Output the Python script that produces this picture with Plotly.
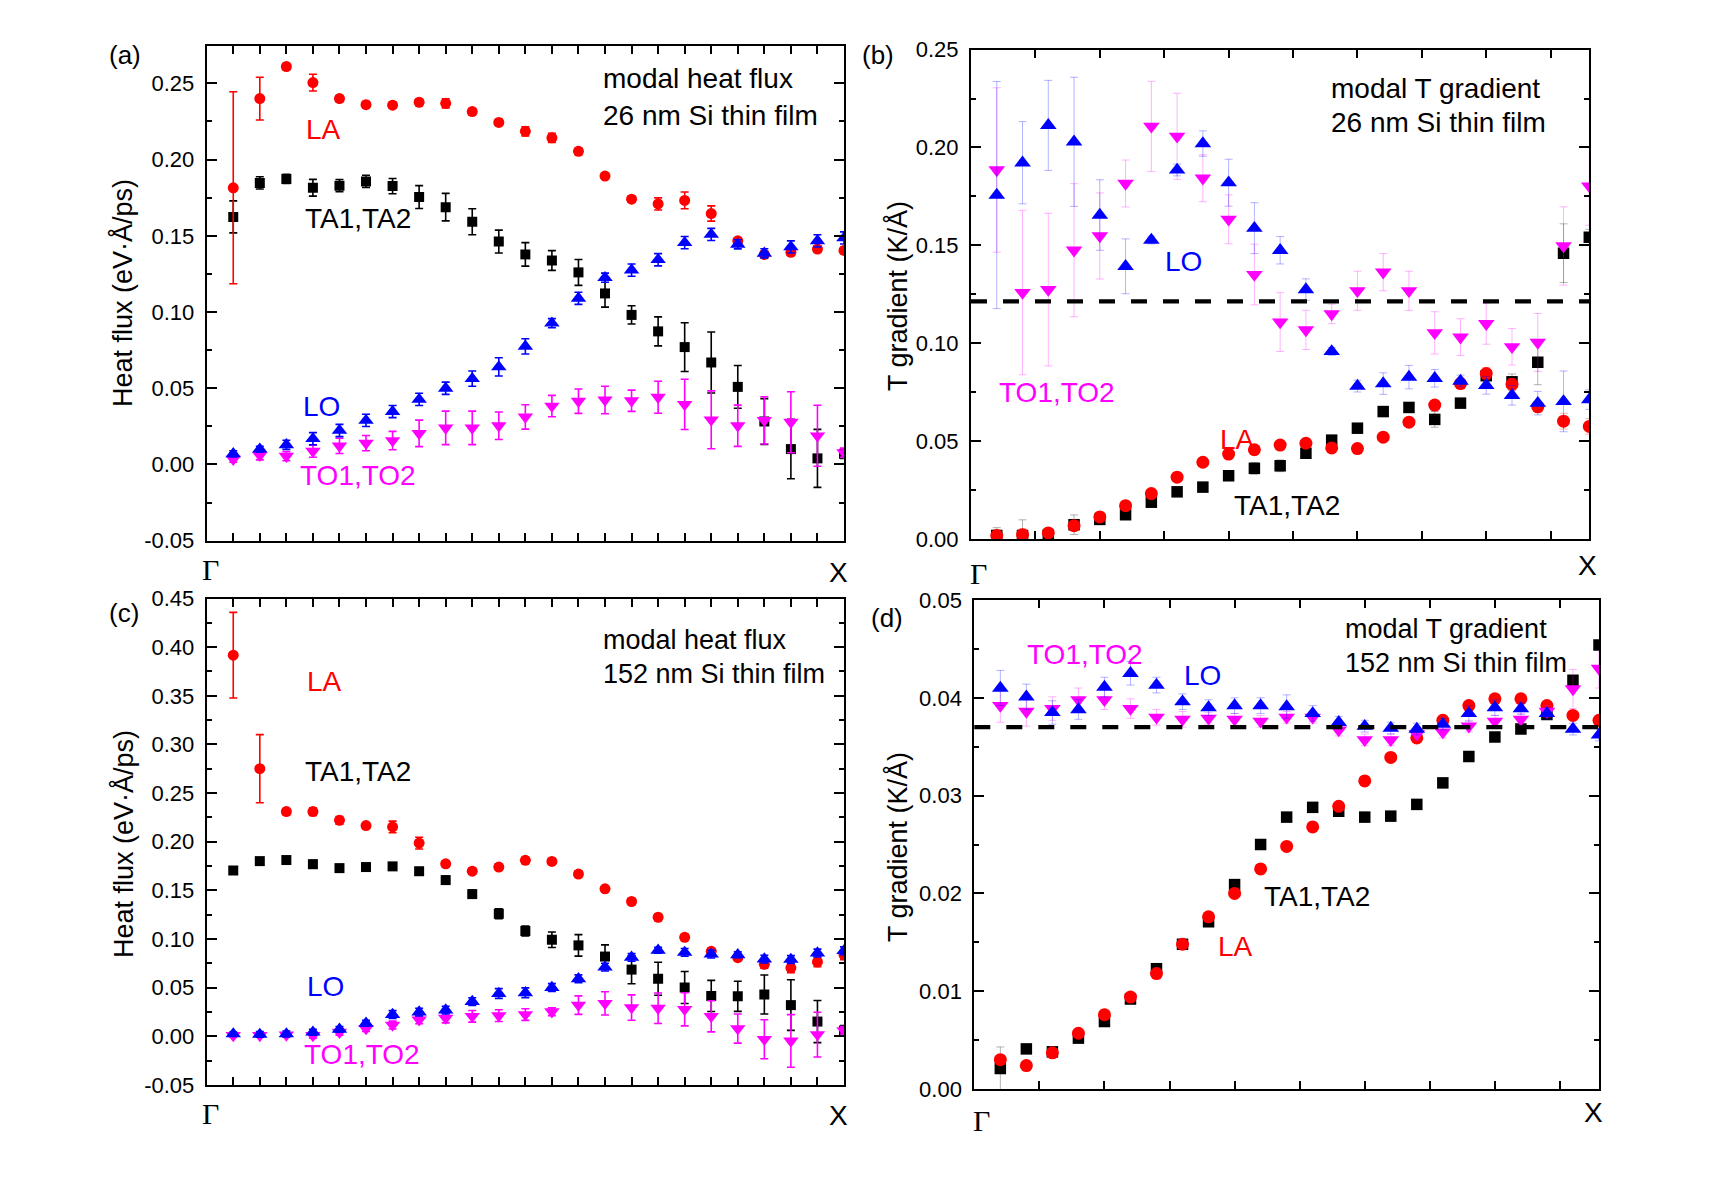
import plotly.graph_objects as go

W, H = 1713, 1198

# ---------------- data ----------------
q = list(range(1, 25))  # wave-vector index from Gamma (0) to X (24)

# (a) modal heat flux, 26 nm film
LA_a = [0.1815, 0.240, 0.261, 0.2505, 0.240, 0.236, 0.2357, 0.2376, 0.2369, 0.2315, 0.2244, 0.2185,
        0.2143, 0.2054, 0.1892, 0.174, 0.1709, 0.1732, 0.1646, 0.1467, 0.1378, 0.1392, 0.1413, 0.1404]
LA_a_err = [0.063, 0.014, 0.002, 0.0055, 0.002, 0.002, 0.002, 0.002, 0.003, 0.002, 0.002, 0.003,
            0.003, 0.002, 0.002, 0.002, 0.004, 0.0055, 0.005, 0.002, 0.002, 0.002, 0.002, 0.002]
TA_a = [0.1624, 0.1847, 0.1873, 0.1815, 0.1829, 0.1857, 0.1826, 0.1754, 0.1688, 0.1592, 0.1462, 0.1378,
        0.1338, 0.126, 0.1122, 0.0981, 0.0873, 0.077, 0.0669, 0.0509, 0.0282, 0.0101, 0.004, 0.007]
TA_a_err = [0.0105, 0.004, 0.003, 0.0055, 0.004, 0.004, 0.005, 0.0075, 0.009, 0.0085, 0.0075, 0.0077,
            0.0065, 0.0085, 0.009, 0.006, 0.0095, 0.016, 0.02, 0.014, 0.015, 0.0195, 0.019, 0.003]
LO_a = [0.007, 0.010, 0.0129, 0.0169, 0.0223, 0.0289, 0.0347, 0.0427, 0.050, 0.0563, 0.064, 0.0775,
        0.0927, 0.109, 0.1225, 0.1275, 0.1343, 0.1455, 0.1509, 0.1444, 0.1385, 0.1427, 0.1467, 0.1486]
LO_a_err = [0.002, 0.002, 0.003, 0.004, 0.004, 0.004, 0.004, 0.004, 0.004, 0.005, 0.006, 0.005,
            0.003, 0.004, 0.003, 0.004, 0.004, 0.004, 0.004, 0.003, 0.003, 0.004, 0.004, 0.004]
TO_a = [0.0035, 0.006, 0.0054, 0.0087, 0.0122, 0.014, 0.0157, 0.0204, 0.024, 0.024, 0.0254, 0.0312,
        0.0383, 0.0415, 0.0423, 0.0418, 0.0441, 0.0394, 0.0293, 0.0254, 0.0289, 0.0277, 0.0188, 0.0077]
TO_a_err = [0.002, 0.003, 0.003, 0.004, 0.005, 0.005, 0.006, 0.0087, 0.011, 0.011, 0.009, 0.008,
            0.007, 0.008, 0.009, 0.007, 0.0105, 0.0165, 0.019, 0.0135, 0.0155, 0.02, 0.02, 0.003]

# (b) modal T gradient, 26 nm film
LO_b = [0.1757, 0.1922, 0.2113, 0.2029, 0.1655, 0.1393, 0.1527, 0.1885, 0.202, 0.182, 0.1588, 0.1475,
        0.1274, 0.0958, 0.0781, 0.0794, 0.0827, 0.0821, 0.0807, 0.0785, 0.0734, 0.0694, 0.0703, 0.0712]
LO_b_err = [0.058, 0.021, 0.023, 0.033, 0.018, 0.014, 0.002, 0.003, 0.0065, 0.012, 0.013, 0.007,
            0.0055, 0.002, 0.003, 0.0055, 0.006, 0.0045, 0.003, 0.0045, 0.005, 0.006, 0.0155, 0.005]
TO_b = [0.1885, 0.1259, 0.1274, 0.1475, 0.1548, 0.1816, 0.2108, 0.2057, 0.1843, 0.1633, 0.1351, 0.1108,
        0.1068, 0.115, 0.1268, 0.1363, 0.1268, 0.1053, 0.1031, 0.11, 0.0982, 0.1004, 0.1497, 0.1803]
TO_b_err = [0.042, 0.042, 0.039, 0.034, 0.022, 0.012, 0.023, 0.022, 0.012, 0.0125, 0.0155, 0.015,
            0.01, 0.005, 0.01, 0.0095, 0.01, 0.0108, 0.0094, 0.0105, 0.0093, 0.0148, 0.02, 0.02]
TA_b = [0.0018, 0.0018, 0.002, 0.0073, 0.010, 0.0124, 0.0188, 0.0241, 0.0265, 0.0323, 0.0361, 0.0374,
        0.0438, 0.0505, 0.0566, 0.0651, 0.0672, 0.0611, 0.0694, 0.0834, 0.0803, 0.0903, 0.146, 0.1542]
TA_b_err = [0.004, 0.008, 0.002, 0.005, 0.002, 0.002, 0.002, 0.002, 0.002, 0.002, 0.003, 0.003,
            0.002, 0.002, 0.002, 0.002, 0.002, 0.004, 0.002, 0.002, 0.004, 0.0115, 0.015, 0.004]
LA_b = [0.0018, 0.0022, 0.0031, 0.0068, 0.0113, 0.017, 0.0232, 0.0316, 0.0392, 0.0434, 0.0456, 0.048,
        0.0489, 0.0465, 0.0462, 0.052, 0.0597, 0.0684, 0.0794, 0.0845, 0.079, 0.0675, 0.0602, 0.0575]
LA_b_err = [0.003, 0.003, 0.002, 0.002, 0.002, 0.002, 0.002, 0.002, 0.002, 0.002, 0.002, 0.002,
            0.002, 0.002, 0.002, 0.002, 0.002, 0.002, 0.002, 0.003, 0.003, 0.002, 0.004, 0.004]
mean_grad_b = 0.1214

# (c) modal heat flux, 152 nm film
LA_c = [0.3917, 0.2751, 0.231, 0.231, 0.222, 0.2166, 0.2152, 0.1986, 0.1773, 0.1697, 0.174, 0.1809,
        0.1798, 0.1668, 0.1516, 0.1386, 0.1224, 0.1018, 0.0874, 0.0809, 0.074, 0.0704, 0.0765, 0.0838]
LA_c_err = [0.044, 0.035, 0.003, 0.004, 0.004, 0.003, 0.006, 0.006, 0.003, 0.003, 0.003, 0.003,
            0.003, 0.003, 0.003, 0.003, 0.003, 0.003, 0.003, 0.003, 0.004, 0.005, 0.005, 0.005]
TA_c = [0.1704, 0.1801, 0.1812, 0.1769, 0.1729, 0.174, 0.1747, 0.1697, 0.1606, 0.1462, 0.126, 0.1083,
        0.0993, 0.0935, 0.082, 0.0686, 0.0592, 0.0502, 0.0415, 0.0412, 0.043, 0.0321, 0.0152, 0.006]
TA_c_err = [0.003, 0.003, 0.003, 0.004, 0.003, 0.003, 0.003, 0.003, 0.004, 0.004, 0.005, 0.005,
            0.008, 0.011, 0.012, 0.0145, 0.017, 0.0165, 0.016, 0.0155, 0.02, 0.026, 0.0217, 0.005]
LO_c = [0.0025, 0.002, 0.0025, 0.0043, 0.0072, 0.0134, 0.0224, 0.0249, 0.027, 0.0357, 0.044, 0.0448,
        0.0502, 0.0592, 0.0711, 0.0812, 0.0884, 0.0863, 0.0845, 0.0838, 0.0794, 0.079, 0.0856, 0.088]
LO_c_err = [0.002, 0.003, 0.003, 0.003, 0.003, 0.003, 0.004, 0.004, 0.004, 0.004, 0.005, 0.005,
            0.004, 0.004, 0.004, 0.004, 0.003, 0.004, 0.004, 0.003, 0.004, 0.004, 0.004, 0.004]
TO_c = [0.001, 0.001, 0.0015, 0.001, 0.0043, 0.008, 0.0116, 0.017, 0.0188, 0.0206, 0.0213, 0.0224,
        0.0253, 0.0321, 0.0339, 0.0296, 0.0289, 0.0278, 0.0206, 0.008, -0.003, -0.0047, 0.0018, 0.006]
TO_c_err = [0.002, 0.002, 0.002, 0.003, 0.003, 0.003, 0.004, 0.004, 0.005, 0.006, 0.006, 0.006,
            0.004, 0.0095, 0.012, 0.013, 0.0157, 0.017, 0.016, 0.015, 0.02, 0.027, 0.023, 0.004]

# (d) modal T gradient, 152 nm film
LO_d = [0.041, 0.0401, 0.0385, 0.0388, 0.0411, 0.0425, 0.0413, 0.0396, 0.039, 0.0392, 0.0392, 0.0391,
        0.0384, 0.0375, 0.0371, 0.0369, 0.0368, 0.0373, 0.0384, 0.039, 0.0389, 0.0384, 0.0368, 0.0362]
LO_d_err = [0.0018, 0.0013, 0.0012, 0.001, 0.001, 0.0012, 0.0008, 0.0008, 0.0008, 0.0008, 0.0008, 0.0012,
            0.0008, 0.0006, 0.0006, 0.0006, 0.0006, 0.0006, 0.0008, 0.0008, 0.0006, 0.0006, 0.0006, 0.0006]
TO_d = [0.0392, 0.0386, 0.0389, 0.0398, 0.0398, 0.0389, 0.038, 0.0378, 0.0379, 0.0378, 0.0376, 0.038,
        0.038, 0.0367, 0.0357, 0.0357, 0.0363, 0.0365, 0.0371, 0.0376, 0.0378, 0.0386, 0.0409, 0.043]
TO_d_err = [0.0017, 0.0015, 0.0012, 0.0012, 0.001, 0.001, 0.0008, 0.0008, 0.0006, 0.0006, 0.0006, 0.0006,
            0.0006, 0.0006, 0.0006, 0.0006, 0.0006, 0.0006, 0.0006, 0.0006, 0.0006, 0.0006, 0.002, 0.002]
TA_d = [0.0021, 0.0041, 0.0038, 0.0052, 0.0069, 0.0092, 0.0123, 0.0148, 0.0171, 0.0209, 0.025, 0.0278,
        0.0288, 0.0284, 0.0278, 0.0279, 0.0291, 0.0313, 0.034, 0.036, 0.0368, 0.0383, 0.0418, 0.0454]
TA_d_err = [0.0022, 0.0003, 0.0003, 0.0003, 0.0003, 0.0003, 0.0003, 0.0003, 0.0003, 0.0003, 0.0003, 0.0003,
            0.0003, 0.0003, 0.0003, 0.0003, 0.0003, 0.0003, 0.0003, 0.0003, 0.0003, 0.0003, 0.0003, 0.0003]
LA_d = [0.003, 0.0024, 0.0037, 0.0057, 0.0076, 0.0094, 0.0118, 0.0148, 0.0176, 0.020, 0.0225, 0.0248,
        0.0268, 0.0289, 0.0315, 0.0339, 0.0359, 0.0377, 0.0392, 0.0399, 0.0399, 0.0392, 0.0382, 0.0377]
LA_d_err = [0.0003] * 24
mean_grad_d = 0.0370

# tick labels
yt_a = [-0.05, 0.00, 0.05, 0.10, 0.15, 0.20, 0.25]
yt_b = [0.00, 0.05, 0.10, 0.15, 0.20, 0.25]
yt_c = [-0.05, 0.00, 0.05, 0.10, 0.15, 0.20, 0.25, 0.30, 0.35, 0.40, 0.45]
yt_d = [0.00, 0.01, 0.02, 0.03, 0.04, 0.05]
x_end_labels = ["Γ", "X"]

# ---------------- style ----------------
FONT = "Liberation Sans, Arial, Helvetica, sans-serif"
SERIF = "Liberation Serif, Times New Roman, DejaVu Serif, serif"
RED, BLACK, BLUE, MAG = "#FF0000", "#000000", "#0000FF", "#FF00FF"
LIGHT = {RED: "rgba(255,0,0,0.30)", BLACK: "rgba(0,0,0,0.30)",
         BLUE: "rgba(0,0,255,0.30)", MAG: "rgba(255,0,255,0.30)"}


def px(xp, yp):
    return xp / W, 1 - yp / H


fig = go.Figure()


def add_series(xa, ya, y, err, color, symbol, size, light):
    ecol = LIGHT[color] if light else color
    fig.add_trace(go.Scatter(
        x=q, y=y, mode="markers", xaxis=xa, yaxis=ya, showlegend=False,
        marker=dict(color=color, symbol=symbol, size=size, line=dict(width=0)),
        error_y=dict(type="data", array=err, visible=True, color=ecol,
                     thickness=1 if light else 1.6, width=4),
    ))


panels = [
    ("x", "y", [(TA_a, TA_a_err, BLACK), (LA_a, LA_a_err, RED), (TO_a, TO_a_err, MAG), (LO_a, LO_a_err, BLUE)], False),
    ("x2", "y2", [(TA_b, TA_b_err, BLACK), (LA_b, LA_b_err, RED), (TO_b, TO_b_err, MAG), (LO_b, LO_b_err, BLUE)], True),
    ("x3", "y3", [(TA_c, TA_c_err, BLACK), (LA_c, LA_c_err, RED), (TO_c, TO_c_err, MAG), (LO_c, LO_c_err, BLUE)], False),
    ("x4", "y4", [(TA_d, TA_d_err, BLACK), (LA_d, LA_d_err, RED), (TO_d, TO_d_err, MAG), (LO_d, LO_d_err, BLUE)], True),
]
SYM = {BLACK: "square", RED: "circle", MAG: "triangle-down", BLUE: "triangle-up"}
for xa, ya, series, light in panels:
    for y, err, col in series:
        if light:
            size = {BLACK: 11.5, RED: 13, MAG: 14.5, BLUE: 14.5}[col]
        else:
            size = {BLACK: 10, RED: 11, MAG: 13.5, BLUE: 13.5}[col]
        add_series(xa, ya, y, err, col, SYM[col], size, light)

# ---------------- axes ----------------
doms = {
    "a": dict(x=[206.7, 844.0], y=[46.0, 540.7]),
    "b": dict(x=[971.0, 1589.3], y=[49.6, 539.0]),
    "c": dict(x=[206.7, 844.0], y=[598.5, 1085.0]),
    "d": dict(x=[974.3, 1599.0], y=[600.0, 1089.0]),
}
yinfo = {
    "a": (yt_a, [-0.05, 0.2745], 0.025),
    "b": (yt_b, [0.0, 0.25], 0.025),
    "c": (yt_c, [-0.05, 0.45], 0.025),
    "d": (yt_d, [0.0, 0.05], 0.005),
}
xdt = {"a": 1, "b": 2.5, "c": 1, "d": 2.5}
ids = {"a": ("xaxis", "yaxis", "x", "y"), "b": ("xaxis2", "yaxis2", "x2", "y2"),
       "c": ("xaxis3", "yaxis3", "x3", "y3"), "d": ("xaxis4", "yaxis4", "x4", "y4")}

layout_axes = {}
for k, (xn, yn, xr, yr) in ids.items():
    d = doms[k]
    xd = [d["x"][0] / W, d["x"][1] / W]
    yd = [1 - d["y"][1] / H, 1 - d["y"][0] / H]
    yt, yrng, ymin = yinfo[k]
    layout_axes[xn] = dict(
        domain=xd, anchor=yr, range=[0, 24], showgrid=False, zeroline=False, automargin=False,
        showline=True, linecolor="black", linewidth=2, mirror="ticks",
        ticks="inside", ticklen=8, tickwidth=1.5, tickcolor="black",
        tick0=0, dtick=xdt[k], showticklabels=False,
    )
    layout_axes[yn] = dict(
        domain=yd, anchor=xr, range=yrng, showgrid=False, zeroline=False, automargin=False,
        showline=True, linecolor="black", linewidth=2, mirror="ticks",
        ticks="inside", ticklen=10, tickwidth=1.5, tickcolor="black",
        tickvals=yt, ticktext=[("%.2f" % v) for v in yt],
        tickfont=dict(family=FONT, size=22, color="black"),
        ticklabelstandoff=6,
        minor=dict(ticks="inside", ticklen=5, tickwidth=1.5, tickcolor="black",
                   tick0=0, dtick=ymin, showgrid=False),
    )

fig.update_layout(
    width=W, height=H, autosize=False,
    margin=dict(l=0, r=0, t=0, b=0, pad=0, autoexpand=False),
    paper_bgcolor="white", plot_bgcolor="white",
    font=dict(family=FONT, color="black"),
    showlegend=False,
    **layout_axes,
)

# mean gradient dashed lines
for xr, yr, val in [("x2", "y2", mean_grad_b), ("x4", "y4", mean_grad_d)]:
    fig.add_shape(type="line", xref=xr + " domain", yref=yr, x0=0, x1=1, y0=val, y1=val,
                  line=dict(color="black", width=4.3, dash="16px,16px"), layer="above")

# ---------------- text ----------------
def ann(text, xp, yp, size, color="black", xanchor="center", family=FONT, angle=0):
    x, y = px(xp, yp)
    fig.add_annotation(text=text, x=x, y=y, xref="paper", yref="paper", showarrow=False,
                       xanchor=xanchor, yanchor="middle", textangle=angle,
                       font=dict(family=family, size=size, color=color))


for t, xp, yp in [("(a)", 125, 55), ("(b)", 878, 55), ("(c)", 124, 613), ("(d)", 887, 618)]:
    ann(t, xp, yp, 26)

ann("modal heat flux", 601, 79, 28, xanchor="left")
ann("26 nm Si thin film", 601, 115, 28, xanchor="left")
ann("modal T gradient", 1329, 88, 28, xanchor="left")
ann("26 nm Si thin film", 1329, 122, 28, xanchor="left")
ann("modal heat flux", 601, 640, 27, xanchor="left")
ann("152 nm Si thin film", 601, 674, 27, xanchor="left")
ann("modal T gradient", 1343, 629, 27, xanchor="left")
ann("152 nm Si thin film", 1343, 663, 27, xanchor="left")

for t, xp, yp, c in [
    ("LA", 323, 129, RED), ("TA1,TA2", 358, 219, BLACK), ("LO", 321, 407, BLUE), ("TO1,TO2", 358, 476, MAG),
    ("LO", 1183, 261, BLUE), ("TO1,TO2", 1057, 392, MAG), ("LA", 1237, 439, RED), ("TA1,TA2", 1287, 505, BLACK),
    ("LA", 324, 682, RED), ("TA1,TA2", 358, 771, BLACK), ("LO", 325, 986, BLUE), ("TO1,TO2", 362, 1054, MAG),
    ("TO1,TO2", 1085, 654, MAG), ("LO", 1202, 675, BLUE), ("LA", 1235, 947, RED), ("TA1,TA2", 1317, 896, BLACK),
]:
    ann(t, xp, yp, 28, color=c)

ann("Heat flux (eV·Å/ps)", 122, 293, 27, angle=-90)
ann("T gradient (K/Å)", 897, 296, 27, angle=-90)
ann("Heat flux (eV·Å/ps)", 123, 844, 27, angle=-90)
ann("T gradient (K/Å)", 898, 847, 27, angle=-90)

for xp, yp in [(210, 569), (978, 573), (210, 1113), (982, 1120)]:
    ann(x_end_labels[0], xp, yp, 30, family=SERIF)
for xp, yp in [(838, 572), (1587, 565), (838, 1115), (1593, 1112)]:
    ann(x_end_labels[1], xp, yp, 28)

fig.write_html("out.html")
